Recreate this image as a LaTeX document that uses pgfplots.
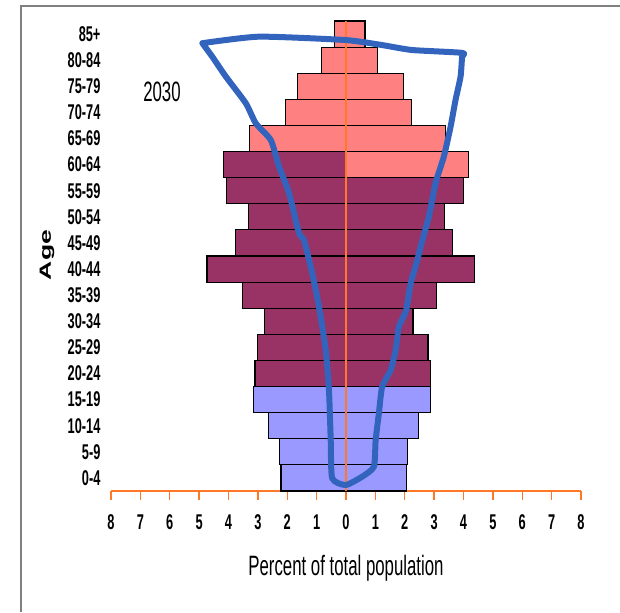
\documentclass[border=0pt]{standalone}
\usepackage{pgfplots}
\pgfplotsset{compat=1.18}
\usepackage{fontspec}
\setmainfont{Liberation Sans}
\newfontfamily\narrow[FakeStretch=0.6]{Liberation Sans}
\usepackage{graphicx}

\definecolor{pinkbar}{RGB}{255,128,128}
\definecolor{plumbar}{RGB}{153,51,102}
\definecolor{lavbar}{RGB}{153,153,255}
\definecolor{axorange}{RGB}{255,120,40}
\definecolor{pen}{RGB}{50,100,190}
\definecolor{framegray}{RGB}{128,128,128}

\begin{document}
\begin{tikzpicture}
% page = 620 x 612 px, 1 px = 0.75 pt
\path[use as bounding box] (0,0) rectangle (465pt,459pt);
\draw[framegray, line width=1.2pt] (15.75pt,0pt) -- (15.75pt,454.5pt) -- (465pt,454.5pt);

\begin{axis}[
    at={(83.25pt,90.75pt)}, anchor=south west,
    scale only axis, width=352.5pt, height=352.5pt,
    xmin=-8, xmax=8, ymin=-0.5, ymax=17.5,
    clip=false,
    axis x line*=bottom, axis y line*=left,
    x axis line style={-, axorange, line width=1.5pt},
    y axis line style={draw=none},
    xtick={-8,...,8}, xtick align=outside,
    xtick style={axorange, line width=1.1pt},
    major tick length=6.5pt,
    xticklabel={\pgfmathparse{abs(\tick)}\pgfmathprintnumber{\pgfmathresult}},
    ytick={0,...,17}, ytick style={draw=none},
    yticklabels={0-4,5-9,10-14,15-19,20-24,25-29,30-34,35-39,40-44,45-49,50-54,55-59,60-64,65-69,70-74,75-79,80-84,85+},
    /pgf/number format/assume math mode=true,
    ticklabel style={font=\narrow\bfseries\fontsize{16pt}{17pt}\selectfont},
    yticklabel style={anchor=east, inner sep=0pt, xshift=-7.7pt},
    xticklabel style={anchor=base, inner sep=0pt, yshift=-22pt},
    bars/.style={xbar, bar width=1, bar shift=0pt, draw=black, line width=0.9pt},
]
% male (left) and female (right) shares, percent of total population
\addplot[bars, fill=lavbar] coordinates {(-2.21,0) (-2.27,1) (-2.63,2) (-3.15,3)};
\addplot[bars, fill=lavbar] coordinates {(2.05,0) (2.10,1) (2.46,2) (2.87,3)};
\addplot[bars, fill=plumbar] coordinates {(-3.10,4) (-3.00,5) (-2.78,6) (-3.53,7) (-4.73,8) (-3.75,9) (-3.33,10) (-4.08,11) (-4.17,12)};
\addplot[bars, fill=plumbar] coordinates {(2.88,4) (2.79,5) (2.28,6) (3.07,7) (4.38,8) (3.63,9) (3.34,10) (4.00,11)};
\addplot[bars, fill=pinkbar] coordinates {(4.18,12) (3.39,13) (2.22,14) (1.95,15) (1.06,16) (0.65,17)};
\addplot[bars, fill=pinkbar] coordinates {(-3.28,13) (-2.07,14) (-1.66,15) (-0.83,16) (-0.38,17)};
\addplot[axorange, line width=1pt] coordinates {(0,-0.5) (0,17.5)};

% hand-drawn outline
\addplot[pen, line width=4.5pt, line join=round, line cap=round, smooth, tension=0.35] coordinates {
 (-4.89,16.65) (-2.96,16.90) (-0.01,16.77) (1.22,16.58) (2.24,16.39) (3.95,16.28)
 (3.95,16.12) (3.90,15.37) (3.73,14.48) (3.56,13.45) (3.33,12.30) (3.05,11.30)
 (2.82,10.01) (2.54,8.86) (2.43,8.35) (2.20,7.45) (2.05,6.43) (1.80,5.79)
 (1.69,4.90) (1.52,4.13) (1.23,3.49) (1.12,2.48) (1.01,1.45) (0.95,0.43)
 (0.55,0.05) (-0.01,-0.27) (-0.47,-0.01) (-0.52,1.45) (-0.58,3.37) (-0.69,4.90)
 (-0.92,6.56) (-1.15,7.84) (-1.43,9.11) (-1.60,9.38) (-1.94,10.91) (-2.28,11.92)
 (-2.56,12.94) (-3.07,13.58) (-3.41,14.35) (-4.09,15.37) (-4.55,16.13) (-4.89,16.65)};
\end{axis}

\node[font=\narrow\fontsize{21pt}{22pt}\selectfont] at (121.5pt,390.2pt) {2030};
\node[rotate=90, font=\bfseries\fontsize{19.9pt}{20pt}\selectfont] at (35.25pt,267.75pt) {\scalebox{1}[0.61]{Age}};
\node[anchor=base, font=\narrow\fontsize{21pt}{22pt}\selectfont] at (259.5pt,27.75pt) {Percent of total population};
\end{tikzpicture}
\end{document}
